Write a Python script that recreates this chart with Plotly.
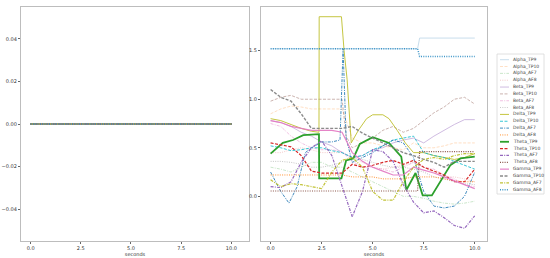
import plotly.graph_objects as go

W, H = 550, 258

# ---------------- data ----------------
t_grid = [0.0, 0.5, 1.0, 1.5, 2.0, 2.5, 3.0, 3.5, 4.0, 4.5, 5.0,
          5.5, 6.0, 6.5, 7.0, 7.5, 8.0, 8.5, 9.0, 9.5, 10.0]
flat_zero = [0.0, 0.0, 0.0, 0.0, 0.0, 0.0, 0.0, 0.0, 0.0, 0.0, 0.0,
             0.0, 0.0, 0.0, 0.0, 0.0, 0.0, 0.0, 0.0, 0.0, 0.0]

series_names = ["Alpha_TP9", "Alpha_TP10", "Alpha_AF7", "Alpha_AF8",
                "Beta_TP9", "Beta_TP10", "Beta_AF7", "Beta_AF8",
                "Delta_TP9", "Delta_TP10", "Delta_AF7", "Delta_AF8",
                "Theta_TP9", "Theta_TP10", "Theta_AF7", "Theta_AF8",
                "Gamma_TP9", "Gamma_TP10", "Gamma_AF7", "Gamma_AF8"]

step_t = [0.0, 7.2, 7.3, 10.0]

alpha_tp9_t = step_t
alpha_tp9 = [1.52, 1.52, 1.63, 1.63]
alpha_tp10 = [0.85, 0.9, 0.93, 0.92, 0.9, 0.9, 0.9, 0.9, 0.6, 0.55, 0.55,
              0.52, 0.5, 0.48, 0.55, 0.5, 0.5, 0.52, 0.55, 0.55, 0.55]
alpha_af7 = [0.3, 0.28, 0.25, 0.3, 0.35, 0.35, 0.3, 0.3, 0.25, 0.2, 0.15,
             0.1, 0.05, 0.0, 0.0, -0.02, -0.05, -0.07, -0.08, -0.07, -0.05]
alpha_af8 = [0.45, 0.45, 0.48, 0.5, 0.48, 0.45, 0.45, 0.45, 0.4, 0.35, 0.3,
             0.28, 0.3, 0.32, 0.35, 0.3, 0.25, 0.2, 0.2, 0.18, 0.15]

beta_tp9 = [0.78, 0.76, 0.72, 0.66, 0.62, 0.56, 0.52, 0.45, 0.4, 0.42, 0.48,
            0.5, 0.55, 0.58, 0.6, 0.55, 0.62, 0.68, 0.74, 0.79, 0.79]
beta_tp10_t = [0.0, 0.5, 1.0, 1.5, 2.0, 3.0, 3.5, 3.7, 4.0, 4.5, 5.0,
               5.5, 6.0, 6.5, 7.0, 7.5, 8.0, 8.5, 9.0, 9.5, 10.0]
beta_tp10 = [0.98, 1.02, 1.04, 1.0, 1.0, 1.0, 1.0, 0.62, 0.5, 0.55, 0.6,
             0.68, 0.72, 0.66, 0.7, 0.78, 0.86, 0.92, 1.0, 1.02, 0.95]
beta_af7 = [0.75, 0.72, 0.62, 0.55, 0.5, 0.48, 0.48, 0.46, 0.36, 0.3, 0.3,
            0.28, 0.25, 0.3, 0.35, 0.3, 0.28, 0.22, 0.18, 0.12, 0.1]
beta_af8 = [0.36, 0.36, 0.35, 0.33, 0.3, 0.3, 0.32, 0.35, 0.4, 0.38, 0.35,
            0.32, 0.3, 0.3, 0.28, 0.25, 0.2, 0.18, 0.15, 0.13, 0.12]

delta_tp9_t = [0.0, 0.5, 1.0, 1.5, 2.0, 2.37, 2.38, 3.47, 3.6, 3.75, 3.95,
               4.3, 4.7, 5.0, 5.5, 5.8, 6.2, 6.6, 7.0, 7.5, 8.0, 8.5, 9.0, 9.5, 10.0]
delta_tp9 = [0.8, 0.78, 0.74, 0.7, 0.67, 0.66, 1.85, 1.85, 1.5, 1.2, 0.55,
             0.68, 0.8, 0.84, 0.84, 0.8, 0.68, 0.55, 0.45, 0.45, 0.42, 0.4, 0.38, 0.4, 0.44]
delta_tp10 = [0.52, 0.5, 0.47, 0.48, 0.5, 0.5, 0.47, 0.45, 0.4, 0.42, 0.48,
              0.52, 0.58, 0.6, 0.62, 0.45, 0.42, 0.4, 0.36, 0.32, 0.28]
delta_af7_t = [0.0, 0.5, 0.9, 1.3, 1.7, 2.0, 2.5, 3.0, 3.4, 3.55, 3.7, 4.0,
               4.5, 5.0, 5.5, 6.0, 6.5, 7.0, 7.5, 8.0, 8.5, 9.0, 9.5, 10.0]
delta_af7 = [0.25, 0.05, -0.07, 0.1, 0.45, 0.5, 0.56, 0.56, 0.58, 1.52, 0.6, 0.35,
             0.4, 0.45, 0.52, 0.58, 0.55, 0.4, 0.05, -0.1, -0.12, -0.1, 0.0, 0.25]
delta_af8 = [0.22, 0.22, 0.22, 0.22, 0.22, 0.22, 0.22, 0.22, 0.2, 0.2, 0.2,
             0.18, 0.18, 0.18, 0.2, 0.2, 0.2, 0.18, 0.16, 0.15, 0.15]

theta_tp9_t = [0.0, 0.6, 1.1, 1.6, 2.37, 2.38, 3.47, 3.7, 4.05, 4.37, 5.0,
               5.8, 6.4, 6.65, 7.1, 7.45, 7.9, 8.45, 8.8, 9.3, 10.0]
theta_tp9 = [0.44, 0.55, 0.58, 0.63, 0.64, 0.185, 0.185, 0.37, 0.39, 0.54, 0.61,
             0.55, 0.41, 0.065, 0.24, 0.01, 0.01, 0.2, 0.32, 0.39, 0.41]
theta_tp10 = [0.55, 0.53, 0.51, 0.42, 0.26, 0.24, 0.24, 0.24, 0.33, 0.3, 0.32,
              0.35, 0.37, 0.33, 0.37, 0.3, 0.26, 0.22, 0.15, 0.15, 0.28]
theta_af7 = [0.1, 0.09, 0.15, 0.35, 0.5, 0.57, 0.42, 0.1, -0.21, 0.05, 0.48,
             0.46, 0.36, 0.12, -0.06, -0.17, -0.15, -0.22, -0.3, -0.33, -0.2]
theta_af8_t = step_t
theta_af8 = [0.055, 0.055, 0.46, 0.46]

gamma_tp9 = [0.78, 0.76, 0.72, 0.7, 0.68, 0.68, 0.68, 0.66, 0.45, 0.36, 0.3,
             0.26, 0.22, 0.22, 0.3, 0.27, 0.24, 0.2, 0.16, 0.12, 0.08]
gamma_tp10 = [1.1, 1.02, 0.98, 0.85, 0.7, 0.7, 0.7, 0.7, 0.72, 0.65, 0.6,
              0.55, 0.5, 0.45, 0.42, 0.38, 0.35, 0.3, 0.36, 0.36, 0.36]
gamma_af7 = [0.17, 0.1, 0.13, 0.12, 0.1, 0.08, 0.25, 0.37, 0.4, 0.3, 0.05,
             -0.04, -0.04, 0.15, 0.3, 0.38, 0.4, 0.38, 0.42, 0.44, 0.44]
gamma_af8_t = step_t
gamma_af8 = [1.52, 1.52, 1.44, 1.44]

x_ticks = [0.0, 2.5, 5.0, 7.5, 10.0]
x_tick_text = ["0.0", "2.5", "5.0", "7.5", "10.0"]
left_y_ticks = [-0.04, -0.02, 0.0, 0.02, 0.04]
left_y_text = ["\u22120.04", "\u22120.02", "0.00", "0.02", "0.04"]
right_y_ticks = [0.0, 0.5, 1.0, 1.5]
right_y_text = ["0.0", "0.5", "1.0", "1.5"]

# ---------------- styles ----------------
tab10 = ["#1f77b4", "#ff7f0e", "#2ca02c", "#d62728", "#9467bd",
         "#8c564b", "#e377c2", "#7f7f7f", "#bcbd22", "#17becf"]
dashes = ["solid", "3px,1.5px", "3px,1.2px,1px,1.2px", "1px,1.3px"]
band_opacity = [0.3, 0.55, 0.85, 1.0, 0.9]
band_width = [0.8, 0.8, 1.0, 1.2, 1.2]

right_data = [
    (alpha_tp9_t, alpha_tp9), (t_grid, alpha_tp10), (t_grid, alpha_af7), (t_grid, alpha_af8),
    (t_grid, beta_tp9), (beta_tp10_t, beta_tp10), (t_grid, beta_af7), (t_grid, beta_af8),
    (delta_tp9_t, delta_tp9), (t_grid, delta_tp10), (delta_af7_t, delta_af7), (t_grid, delta_af8),
    (theta_tp9_t, theta_tp9), (t_grid, theta_tp10), (t_grid, theta_af7), (theta_af8_t, theta_af8),
    (t_grid, gamma_tp9), (t_grid, gamma_tp10), (t_grid, gamma_af7), (gamma_af8_t, gamma_af8),
]

def style(i):
    band, ch = divmod(i, 4)
    col = tab10[i % 10]
    width = band_width[band]
    if i == 19:
        col = "#2b8cc4"
        width = 1.5
    if i == 12:
        width = 1.8
    if i == 17:
        width = 1.4
    return dict(color=col, dash=dashes[ch], width=width), band_opacity[band]

fig = go.Figure()
for i, name in enumerate(series_names):
    ln, op = style(i)
    fig.add_trace(go.Scatter(x=t_grid, y=flat_zero, mode="lines", line=ln,
                             opacity=op, name=name, showlegend=False,
                             xaxis="x", yaxis="y"))
for i, name in enumerate(series_names):
    ln, op = style(i)
    xs, ys = right_data[i]
    fig.add_trace(go.Scatter(x=xs, y=ys, mode="lines", line=ln,
                             opacity=op, name=name, showlegend=False,
                             xaxis="x2", yaxis="y2"))

def px_x(p):
    return p / W

def px_y(p):
    return 1 - p / H

frame = "#bdbdbd"
font = dict(family="DejaVu Sans", size=5, color="#333")
axis_common = dict(showgrid=False, zeroline=False, showline=True, mirror=True,
                   linecolor=frame, linewidth=1.2, ticks="outside", ticklen=2,
                   tickcolor="#666", tickwidth=0.6, tickfont=font)

fig.update_layout(
    width=W, height=H, margin=dict(l=0, r=0, t=0, b=0),
    paper_bgcolor="white", plot_bgcolor="white", showlegend=False,
    xaxis=dict(domain=[px_x(21), px_x(249)], range=[-0.48, 10.88],
               tickvals=x_ticks, ticktext=x_tick_text, anchor="y",
               title=dict(text="seconds", font=font, standoff=2), **axis_common),
    yaxis=dict(domain=[px_y(241), px_y(7)], range=[-0.055, 0.055],
               tickvals=left_y_ticks, ticktext=left_y_text, anchor="x", **axis_common),
    xaxis2=dict(domain=[px_x(261), px_x(487)], range=[-0.47, 10.6],
                tickvals=x_ticks, ticktext=x_tick_text, anchor="y2",
                title=dict(text="seconds", font=font, standoff=2), **axis_common),
    yaxis2=dict(domain=[px_y(241), px_y(7)], range=[-0.46, 1.95],
                tickvals=right_y_ticks, ticktext=right_y_text, anchor="x2", **axis_common),
)

# ---------------- legend (manual, compact) ----------------
shapes = [dict(type="rect", xref="paper", yref="paper",
               x0=px_x(497), x1=px_x(544), y0=px_y(194), y1=px_y(54),
               line=dict(color="#d8d8d8", width=0.8), fillcolor="white", layer="above")]
annotations = []
for i, name in enumerate(series_names):
    ln, op = style(i)
    yc = 59.7 + i * 6.84
    shapes.append(dict(type="line", xref="paper", yref="paper",
                       x0=px_x(500), x1=px_x(509), y0=px_y(yc), y1=px_y(yc),
                       line=dict(color=ln["color"], dash=ln["dash"], width=ln["width"]),
                       opacity=op, layer="above"))
    annotations.append(dict(xref="paper", yref="paper", x=px_x(511), y=px_y(yc),
                            text=name, showarrow=False, xanchor="left", yanchor="middle",
                            font=dict(family="DejaVu Sans", size=4.5, color="#444")))
fig.update_layout(shapes=shapes, annotations=annotations)

fig.write_html("out.html")
